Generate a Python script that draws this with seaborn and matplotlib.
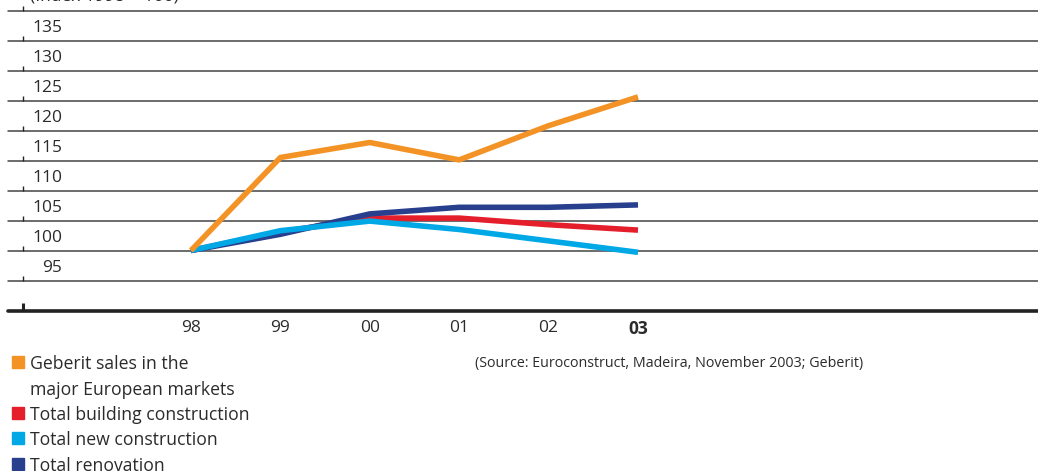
import matplotlib
matplotlib.use("Agg")
import matplotlib.pyplot as plt
import matplotlib.transforms as mtransforms
import seaborn as sns
import pandas as pd
import numpy as np

years = ["98", "99", "00", "01", "02", "03"]
geberit = [100, 115.5, 118.0, 115.1, 120.8, 125.6]
building = [100, 103.1, 105.4, 105.4, 104.3, 103.4]
new_constr = [100, 103.3, 104.9, 103.5, 101.6, 99.7]
renovation = [100, 102.7, 106.1, 107.2, 107.2, 107.6]
y_ticks = [95, 100, 105, 110, 115, 120, 125, 130, 135]
y_title = "(Index 1998 = 100)"

series_names = ["Geberit sales in the\nmajor European markets",
                "Total building construction",
                "Total new construction",
                "Total renovation"]
colors = ["#F39325", "#E41E2B", "#00A8E6", "#283F8E"]

sns.set_theme(style="white")
plt.rcParams["font.family"] = ["Open Sans", "DejaVu Sans"]

df = pd.DataFrame({"x": np.tile(np.arange(len(years)), 4),
                   "value": geberit + building + new_constr + renovation,
                   "series": np.repeat(series_names, len(years))})

W, H = 1038, 471
fig = plt.figure(figsize=(W / 100, H / 100), dpi=100)
ax = fig.add_axes([0, 0, 1, 1])
for s in ax.spines.values():
    s.set_visible(False)

# pixel mapping
x0px, dx = 191, 89.4
ax.set_xlim(-x0px / dx, (W - x0px) / dx)
ppv = 6.0  # pixels per unit
ax.set_ylim(100 - (H - 250.5) / ppv, 100 + 250.5 / ppv)

grid_vals = [90] + y_ticks + [140]
for v in grid_vals:
    if v == 90:
        ax.axhline(v, xmin=8 / W, xmax=1, color="#222222", lw=2.6, zorder=1)
    else:
        ax.axhline(v, xmin=8 / W, xmax=1, color="#444444", lw=1.1, zorder=1)

trans_ax = mtransforms.blended_transform_factory(ax.transAxes, ax.transData)
for v in y_ticks + [140]:
    ax.plot([23 / W, 23 / W], [v, v + 5 / ppv], transform=trans_ax,
            color="#222222", lw=1.0, zorder=2, solid_capstyle="butt")
ax.plot([23 / W, 23 / W], [90, 90 + 8 / ppv], transform=trans_ax,
        color="#222222", lw=2.2, zorder=2, solid_capstyle="butt")

offset = mtransforms.ScaledTranslation(0, 3 / 72, fig.dpi_scale_trans)
for v in y_ticks:
    ax.text(62 / W, v, str(v), transform=trans_ax + offset, ha="right",
            va="bottom", fontsize=12.5, color="#2b2b2b")
offset2 = mtransforms.ScaledTranslation(0, 4 / 72, fig.dpi_scale_trans)
ax.text(30 / W, 140, y_title, transform=trans_ax + offset2, ha="left",
        va="bottom", fontsize=12.5, color="#2b2b2b")

# draw order: red, dark blue, light blue, orange
order = [1, 3, 2, 0]
for i in order:
    sub = df[df["series"] == series_names[i]]
    sns.lineplot(data=sub, x="x", y="value", color=colors[i], lw=4.0,
                 ax=ax, zorder=3 + order.index(i), legend=False,
                 solid_capstyle="butt")

ax.set_xticks([])
ax.set_yticks([])
ax.set_xlabel("")
ax.set_ylabel("")

for i, yr in enumerate(years):
    ax.text(i, 90 - 18 / ppv, yr, ha="center", va="center", fontsize=12.5,
            color="#2b2b2b", fontweight="bold" if yr == "03" else "normal")

# legend
leg_y = [362, 413, 438, 464]
line_gap = 26
for name, c, yp in zip(series_names, colors, leg_y):
    fig.patches.append(plt.Rectangle((12 / W, 1 - (yp + 6) / H), 12 / W, 12 / H,
                                     transform=fig.transFigure, color=c))
    for k, part in enumerate(name.split("\n")):
        fig.text(30 / W, 1 - (yp + k * line_gap) / H, part, ha="left",
                 va="center_baseline", fontsize=12.7, color="#2b2b2b")

fig.text(475 / W, 1 - 364 / H,
         "(Source: Euroconstruct, Madeira, November 2003; Geberit)",
         ha="left", va="center", fontsize=10.3, color="#2b2b2b")

fig.savefig("out.png", dpi=100)
